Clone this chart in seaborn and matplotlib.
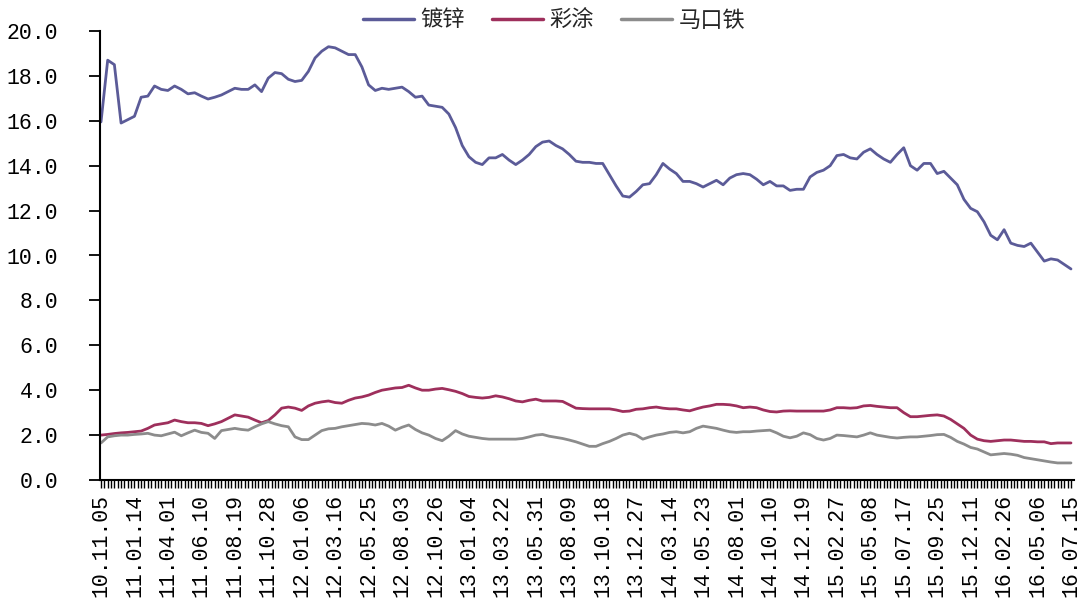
import numpy as np
import pandas as pd
import matplotlib
matplotlib.use('Agg')
import matplotlib.pyplot as plt
import seaborn as sns

# weekly series, one value read every second week (index 0..290 step 2)
galvanized = [
    15.95, 18.7, 18.5, 15.9, 16.05, 16.2, 17.05, 17.1, 17.55, 17.4,
    17.35, 17.55, 17.4, 17.2, 17.25, 17.1, 16.97, 17.05, 17.15, 17.3,
    17.45, 17.4, 17.4, 17.6, 17.3, 17.9, 18.15, 18.1, 17.85, 17.75,
    17.8, 18.2, 18.8, 19.1, 19.3, 19.25, 19.1, 18.95, 18.95, 18.4,
    17.6, 17.35, 17.45, 17.4, 17.45, 17.5, 17.3, 17.05, 17.1, 16.7,
    16.65, 16.6, 16.3, 15.7, 14.9, 14.4, 14.15, 14.05, 14.35, 14.35,
    14.5, 14.25, 14.05, 14.25, 14.5, 14.85, 15.05, 15.1, 14.9, 14.75,
    14.5, 14.2, 14.15, 14.15, 14.1, 14.1, 13.6, 13.1, 12.65, 12.6,
    12.85, 13.15, 13.2, 13.6, 14.1, 13.85, 13.65, 13.3, 13.3, 13.2,
    13.05, 13.2, 13.35, 13.15, 13.45, 13.6, 13.65, 13.6, 13.4, 13.15,
    13.3, 13.1, 13.1, 12.9, 12.95, 12.95, 13.5, 13.7, 13.8, 14.0,
    14.45, 14.5, 14.35, 14.3, 14.6, 14.75, 14.5, 14.3, 14.15, 14.5,
    14.8, 14.0, 13.8, 14.1, 14.1, 13.65, 13.75, 13.45, 13.15, 12.5,
    12.1, 11.95, 11.5, 10.9, 10.7, 11.15, 10.55, 10.45, 10.4, 10.55,
    10.15, 9.75, 9.85, 9.8, 9.6, 9.4,
]
coated = [
    2.0, 2.03, 2.07, 2.1, 2.12, 2.15, 2.18, 2.3, 2.45, 2.5,
    2.55, 2.67, 2.6, 2.55, 2.55, 2.52, 2.42, 2.5, 2.6, 2.75,
    2.9, 2.85, 2.8, 2.67, 2.55, 2.65, 2.9, 3.2, 3.25, 3.2,
    3.1, 3.3, 3.42, 3.48, 3.52, 3.45, 3.42, 3.55, 3.65, 3.7,
    3.78, 3.9, 4.0, 4.05, 4.1, 4.12, 4.22, 4.1, 4.0, 4.0,
    4.05, 4.08, 4.02, 3.95, 3.85, 3.72, 3.68, 3.65, 3.68, 3.75,
    3.7, 3.62, 3.52, 3.48, 3.55, 3.6, 3.52, 3.52, 3.52, 3.5,
    3.35, 3.2, 3.18, 3.17, 3.17, 3.17, 3.17, 3.12, 3.05, 3.07,
    3.15, 3.17, 3.22, 3.25, 3.2, 3.17, 3.17, 3.12, 3.08, 3.17,
    3.25, 3.3, 3.37, 3.37, 3.35, 3.3, 3.22, 3.25, 3.22, 3.12,
    3.05, 3.03, 3.07, 3.08, 3.07, 3.07, 3.07, 3.07, 3.07, 3.12,
    3.22, 3.22, 3.2, 3.22, 3.3, 3.32, 3.28, 3.25, 3.22, 3.22,
    3.0, 2.82, 2.82, 2.85, 2.88, 2.9, 2.85, 2.7, 2.5, 2.3,
    2.0, 1.82, 1.75, 1.72, 1.75, 1.78, 1.78, 1.75, 1.72, 1.72,
    1.7, 1.7, 1.62, 1.65, 1.65, 1.65,
]
tinplate = [
    1.65, 1.92, 1.97, 2.0, 2.0, 2.03, 2.05, 2.08, 2.0, 1.97,
    2.05, 2.13, 1.97, 2.1, 2.22, 2.12, 2.08, 1.85, 2.2, 2.25,
    2.3, 2.25, 2.22, 2.37, 2.5, 2.6, 2.5, 2.42, 2.37, 1.92,
    1.8, 1.8, 2.0, 2.2, 2.28, 2.3, 2.37, 2.42, 2.47, 2.52,
    2.5, 2.45, 2.52, 2.4, 2.22, 2.35, 2.45, 2.25, 2.1, 2.0,
    1.85, 1.75, 1.95, 2.2, 2.05, 1.95, 1.9, 1.85, 1.82, 1.82,
    1.82, 1.82, 1.82, 1.85, 1.92, 2.0, 2.03, 1.95, 1.9, 1.85,
    1.78, 1.7, 1.6, 1.5, 1.5, 1.62, 1.72, 1.85, 2.0, 2.08,
    2.0, 1.82, 1.92, 2.0, 2.05, 2.12, 2.15, 2.1, 2.15, 2.3,
    2.4, 2.35, 2.3, 2.22, 2.15, 2.12, 2.15, 2.15, 2.18, 2.2,
    2.22, 2.1, 1.95, 1.88, 1.95, 2.1, 2.02, 1.85, 1.78, 1.85,
    2.0, 1.98, 1.95, 1.92, 2.0, 2.1, 2.0, 1.95, 1.9, 1.87,
    1.9, 1.92, 1.92, 1.95, 1.98, 2.02, 2.03, 1.9, 1.72, 1.6,
    1.45, 1.38, 1.25, 1.12, 1.15, 1.18, 1.15, 1.1, 1.0, 0.95,
    0.9, 0.85, 0.8, 0.76, 0.76, 0.76,
]

tick_labels = [
    '10.11.05', '11.01.14', '11.04.01', '11.06.10', '11.08.19', '11.10.28',
    '12.01.06', '12.03.16', '12.05.25', '12.08.03', '12.10.26', '13.01.04',
    '13.03.22', '13.05.31', '13.08.09', '13.10.18', '13.12.27', '14.03.14',
    '14.05.23', '14.08.01', '14.10.10', '14.12.19', '15.02.27', '15.05.08',
    '15.07.17', '15.09.25', '15.12.11', '16.02.26', '16.05.06', '16.07.15',
]
series_names = ['镀锌', '彩涂', '马口铁']
colors = ['#5b5b98', '#9e2f5c', '#8c8c8c']

n_weeks = 291
week_idx = np.arange(0, n_weeks, 2)

df = pd.concat([
    pd.DataFrame({'week': week_idx, 'value': vals, 'type': name})
    for name, vals in zip(series_names, [galvanized, coated, tinplate])
])

sns.set_style('ticks')
plt.rcParams['font.family'] = ['Liberation Mono', 'Noto Sans CJK SC', 'DejaVu Sans']

fig = plt.figure(figsize=(10.88, 6.02), dpi=100)
ax = fig.add_axes([100 / 1088, 1 - 480 / 602, 974 / 1088, 449 / 602])

sns.lineplot(data=df, x='week', y='value', hue='type', hue_order=series_names,
             palette=colors, linewidth=2.0, ax=ax, legend=False)

ax.set_xlim(-0.3, 290.9)
ax.set_ylim(0, 20)
ax.set_yticks(np.arange(0, 20.1, 2))
ax.set_yticklabels([f'{v:.1f}' for v in np.arange(0, 20.1, 2)], fontsize=15.5)
ax.set_xticks(np.arange(0, n_weeks, 10))
ax.set_xticklabels(tick_labels, rotation=90, fontsize=15.5)
ax.set_xticks(np.arange(0, n_weeks, 1), minor=True)
ax.tick_params(axis='y', length=8, width=1.3, pad=22, colors='black')
ax.tick_params(axis='x', which='both', length=6, width=1.0, pad=4, colors='black')
ax.set_xlabel('')
ax.set_ylabel('')
for side in ['top', 'right']:
    ax.spines[side].set_visible(False)
for side in ['left', 'bottom']:
    ax.spines[side].set_linewidth(1.5)
    ax.spines[side].set_color('black')

handles = [plt.Line2D([], [], color=c, linewidth=2.5) for c in colors]
fig.legend(handles, series_names, loc='center', bbox_to_anchor=(554 / 1088, 1 - 20 / 602),
           ncol=3, frameon=False, prop={'family': 'Noto Sans CJK SC', 'size': 16},
           handlelength=2.3, handletextpad=0.3, columnspacing=1.2)

fig.savefig('out.png', dpi=100)
